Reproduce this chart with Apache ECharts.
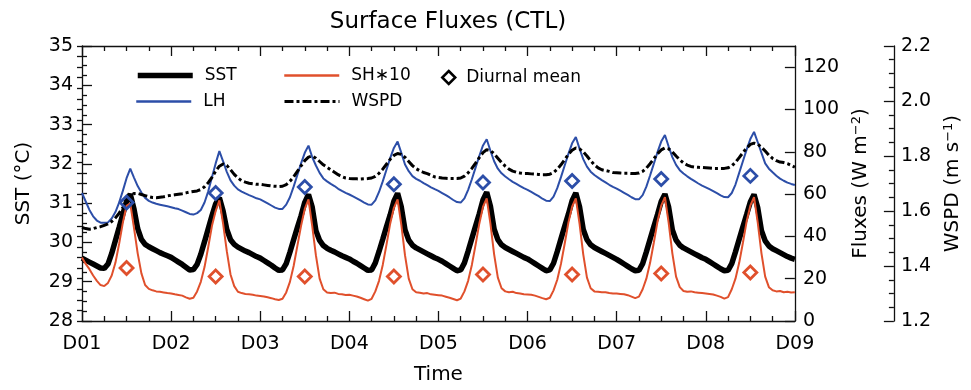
<!DOCTYPE html>
<html>
<head>
<meta charset="utf-8">
<script src="https://cdn.jsdelivr.net/npm/echarts@6/dist/echarts.min.js"></script>
<style>
  html, body { margin: 0; padding: 0; background: #ffffff; }
  #chart { width: 971px; height: 390px; }
</style>
</head>
<body>
<div id="chart"></div>
<script>
// Hourly model output over eight days (D01 00h .. D09 00h)
const dayLabels = ['D01', 'D02', 'D03', 'D04', 'D05', 'D06', 'D07', 'D08', 'D09'];

// Sea surface temperature (°C)
const sst = [
  29.60, 29.55, 29.50, 29.45, 29.40, 29.35, 29.34, 29.45, 29.72, 30.05, 30.38, 30.72, 31.05, 31.23, 30.85, 30.35, 30.08, 29.95, 29.89, 29.84, 29.79, 29.74, 29.70, 29.66,
  29.62, 29.56, 29.50, 29.44, 29.37, 29.30, 29.31, 29.44, 29.70, 30.02, 30.35, 30.68, 30.98, 31.14, 30.80, 30.33, 30.07, 29.95, 29.88, 29.83, 29.78, 29.74, 29.69, 29.64,
  29.60, 29.54, 29.48, 29.42, 29.35, 29.29, 29.30, 29.46, 29.75, 30.07, 30.38, 30.68, 31.02, 31.22, 30.90, 30.30, 30.05, 29.92, 29.85, 29.80, 29.76, 29.71, 29.66, 29.62,
  29.58, 29.52, 29.47, 29.41, 29.35, 29.29, 29.30, 29.48, 29.77, 30.08, 30.40, 30.70, 31.05, 31.25, 30.90, 30.32, 30.06, 29.93, 29.86, 29.81, 29.76, 29.71, 29.66, 29.61,
  29.57, 29.52, 29.46, 29.40, 29.34, 29.28, 29.30, 29.48, 29.78, 30.10, 30.42, 30.73, 31.08, 31.28, 30.92, 30.34, 30.07, 29.94, 29.87, 29.82, 29.77, 29.72, 29.67, 29.62,
  29.58, 29.52, 29.46, 29.40, 29.34, 29.28, 29.30, 29.47, 29.77, 30.09, 30.41, 30.72, 31.06, 31.26, 30.91, 30.33, 30.07, 29.94, 29.87, 29.82, 29.77, 29.72, 29.67, 29.62,
  29.57, 29.51, 29.45, 29.39, 29.33, 29.28, 29.29, 29.46, 29.76, 30.08, 30.40, 30.71, 31.04, 31.23, 30.90, 30.32, 30.06, 29.93, 29.86, 29.81, 29.76, 29.71, 29.66, 29.61,
  29.57, 29.51, 29.45, 29.39, 29.33, 29.28, 29.29, 29.46, 29.76, 30.08, 30.40, 30.71, 31.03, 31.22, 30.88, 30.30, 30.04, 29.91, 29.84, 29.79, 29.74, 29.69, 29.64, 29.60,
  29.57
];

// Latent heat flux (W m-2)
const lh = [
  60.5, 56.5, 52.5, 49.5, 47.5, 46.5, 46.4, 46.6, 48.5, 51.5, 56.0, 61.5, 67.5, 72.0, 67.8, 63.8, 60.7, 58.2, 56.8, 56.0, 55.4, 55.0, 54.6, 54.2,
  53.8, 53.3, 52.9, 52.2, 51.4, 50.6, 50.3, 51.0, 52.5, 56.0, 61.3, 68.0, 74.5, 80.3, 75.5, 70.5, 66.5, 64.0, 62.2, 61.2, 60.3, 59.5, 58.8, 58.0,
  57.5, 56.6, 55.6, 54.6, 53.6, 53.0, 53.0, 55.0, 58.5, 63.5, 69.0, 74.5, 79.5, 82.9, 77.5, 73.5, 70.0, 67.4, 66.0, 64.8, 63.8, 62.5, 61.5, 60.6,
  59.8, 58.9, 58.0, 57.0, 56.0, 55.1, 55.0, 57.0, 61.0, 66.0, 71.5, 77.0, 81.8, 84.8, 79.5, 74.0, 70.8, 68.5, 67.2, 66.3, 65.2, 64.2, 63.2, 62.3,
  61.5, 60.5, 59.5, 58.4, 57.2, 56.2, 56.0, 58.0, 62.0, 67.0, 72.5, 78.0, 83.0, 85.9, 80.5, 75.5, 72.0, 69.8, 68.3, 67.0, 65.8, 64.8, 63.8, 62.8,
  62.0, 61.0, 60.0, 59.0, 57.8, 56.9, 56.7, 58.8, 62.8, 68.0, 73.5, 79.0, 84.0, 87.0, 81.5, 76.5, 73.0, 70.6, 69.0, 67.8, 66.6, 65.5, 64.4, 63.4,
  62.6, 61.6, 60.6, 59.6, 58.5, 57.6, 57.5, 59.5, 63.5, 68.8, 74.3, 79.8, 84.8, 87.9, 82.5, 77.5, 73.8, 71.3, 69.7, 68.4, 67.2, 66.1, 65.0, 64.0,
  63.2, 62.3, 61.4, 60.4, 59.4, 58.6, 58.5, 60.5, 64.5, 70.0, 75.5, 81.0, 86.0, 89.4, 84.5, 79.5, 74.5, 72.0, 70.3, 68.7, 67.3, 66.3, 65.4, 64.8,
  64.3
];

// Sensible heat flux x 10 (W m-2)
const sh10 = [
  30.0, 27.0, 24.5, 21.5, 19.0, 17.0, 16.5, 18.0, 21.5, 27.5, 36.5, 46.5, 54.5, 55.5, 44.0, 32.0, 22.5, 17.0, 15.2, 14.5, 14.0, 13.8, 13.5, 13.2,
  13.0, 12.6, 12.3, 12.0, 11.2, 10.5, 11.0, 14.0, 18.5, 25.5, 35.0, 45.0, 52.0, 57.0, 46.0, 33.0, 22.0, 16.5, 13.8, 13.2, 12.8, 12.6, 12.4, 12.0,
  11.8, 11.6, 11.2, 10.8, 10.3, 9.9, 10.5, 13.5, 18.5, 26.0, 35.5, 45.0, 53.0, 57.5, 45.0, 31.0, 20.0, 15.0, 13.5, 13.2, 13.4, 12.8, 12.6, 12.3,
  12.4, 12.0, 11.6, 11.0, 10.3, 9.6, 10.5, 14.0, 19.0, 26.5, 36.0, 46.0, 53.5, 57.5, 45.5, 31.0, 20.0, 15.0, 13.6, 13.4, 13.0, 13.2, 12.6, 12.4,
  12.2, 12.0, 11.5, 11.0, 10.4, 9.8, 10.6, 14.0, 19.0, 26.5, 36.0, 46.0, 54.0, 58.0, 46.0, 31.5, 20.5, 15.5, 14.0, 13.6, 13.8, 13.2, 13.0, 12.6,
  12.5, 12.4, 12.0, 11.4, 10.8, 10.3, 11.0, 14.5, 19.5, 27.0, 36.5, 46.5, 54.0, 58.0, 46.0, 31.5, 20.5, 15.5, 14.0, 13.8, 13.6, 13.6, 13.2, 13.0,
  13.0, 12.8, 12.6, 12.2, 11.5, 10.8, 11.5, 15.0, 20.0, 27.5, 37.0, 47.0, 54.5, 58.5, 46.5, 32.0, 21.0, 16.0, 14.2, 13.8, 14.0, 13.6, 13.4, 13.2,
  13.0, 12.8, 12.5, 12.0, 11.4, 10.6, 11.3, 15.0, 20.0, 27.5, 37.0, 47.0, 54.5, 58.5, 46.5, 32.0, 21.0, 16.0, 14.5, 14.0, 14.2, 13.6, 13.8, 13.5,
  13.6
];

// 10-m wind speed (m s-1)
const wspd = [
  1.540, 1.536, 1.534, 1.536, 1.540, 1.543, 1.548, 1.553, 1.562, 1.575, 1.592, 1.612, 1.632, 1.650, 1.664, 1.664, 1.660, 1.656, 1.652, 1.649, 1.648, 1.650, 1.652, 1.655,
  1.657, 1.659, 1.661, 1.663, 1.666, 1.669, 1.671, 1.673, 1.678, 1.688, 1.703, 1.722, 1.745, 1.763, 1.771, 1.766, 1.750, 1.733, 1.720, 1.710, 1.705, 1.701, 1.699, 1.697,
  1.697, 1.695, 1.693, 1.691, 1.690, 1.689, 1.690, 1.696, 1.708, 1.724, 1.744, 1.764, 1.783, 1.796, 1.800, 1.792, 1.780, 1.768, 1.759, 1.750, 1.741, 1.732, 1.725, 1.720,
  1.718, 1.717, 1.717, 1.716, 1.717, 1.718, 1.720, 1.726, 1.737, 1.752, 1.770, 1.788, 1.802, 1.809, 1.806, 1.795, 1.780, 1.765, 1.754, 1.746, 1.740, 1.736, 1.730, 1.724,
  1.722, 1.720, 1.719, 1.718, 1.718, 1.718, 1.720, 1.727, 1.739, 1.755, 1.774, 1.794, 1.812, 1.823, 1.820, 1.808, 1.792, 1.776, 1.763, 1.752, 1.745, 1.741, 1.738, 1.736,
  1.736, 1.735, 1.734, 1.733, 1.732, 1.732, 1.734, 1.740, 1.752, 1.768, 1.787, 1.806, 1.821, 1.829, 1.826, 1.815, 1.800, 1.783, 1.768, 1.757, 1.750, 1.747, 1.744, 1.740,
  1.739, 1.738, 1.737, 1.737, 1.736, 1.736, 1.738, 1.744, 1.756, 1.772, 1.790, 1.808, 1.822, 1.829, 1.826, 1.815, 1.800, 1.786, 1.775, 1.767, 1.762, 1.760, 1.759, 1.758,
  1.757, 1.756, 1.755, 1.755, 1.755, 1.755, 1.757, 1.764, 1.777, 1.794, 1.812, 1.829, 1.842, 1.847, 1.843, 1.832, 1.818, 1.803, 1.791, 1.783, 1.778, 1.776, 1.772, 1.766,
  1.759
];

// Diurnal means, plotted at mid-day
const lhDailyMean = [56.0, 60.5, 63.3, 64.6, 65.5, 66.2, 67.1, 68.6];
const sh10DailyMean = [25.1, 21.0, 21.0, 21.0, 22.0, 22.0, 22.5, 22.9];

const FONT = 'DejaVu Sans';
const BLUE = '#2c4ea8';
const RED = '#e0502c';

const hourly = arr => arr.map((v, i) => [i / 24, v]);
const midday = arr => arr.map((v, i) => [i + 0.5, v]);

const axisLineStyle = { color: '#111', width: 1.3 };
const labelStyle = { fontFamily: FONT, fontSize: 19, color: '#000' };
const nameStyle = {
  fontFamily: FONT, fontSize: 20, color: '#000',
  rich: { sup: { fontFamily: FONT, fontSize: 13, color: '#000', verticalAlign: 'top', lineHeight: 22 } }
};

function xAxisCfg(pos, showLabels) {
  return {
    type: 'value', position: pos, min: 0, max: 8, interval: 1,
    axisLine: { show: true, onZero: false, lineStyle: axisLineStyle },
    axisTick: { show: true, inside: true, length: 10, lineStyle: axisLineStyle },
    minorTick: { show: true, splitNumber: 4, length: 5, lineStyle: axisLineStyle },
    axisLabel: showLabels
      ? Object.assign({ margin: 14, formatter: v => dayLabels[Math.round(v)] }, labelStyle)
      : { show: false },
    splitLine: { show: false }
  };
}

// Line-only legend keys: the marker part of the key is made invisible
const hiddenMarker = { color: 'rgba(0,0,0,0)', borderColor: 'rgba(0,0,0,0)', borderWidth: 0, opacity: 0 };

const legendBase = {
  orient: 'horizontal', padding: 0, selectedMode: false,
  itemHeight: 18, itemWidth: 55,
  itemStyle: hiddenMarker,
  textStyle: { fontFamily: FONT, fontSize: 17, color: '#000', padding: [0, 0, 0, 7] }
};

const option = {
  animation: false,
  backgroundColor: '#ffffff',
  title: {
    text: 'Surface Fluxes (CTL)',
    left: 443, top: 6, textAlign: 'center',
    textStyle: { fontFamily: FONT, fontSize: 23, fontWeight: 'normal', color: '#000' }
  },
  grid: { left: 82, right: 167, top: 46, bottom: 59, containLabel: false },
  legend: [
    Object.assign({}, legendBase, { data: ['SST'], left: 135, top: 67, lineStyle: { width: 5.5 } }),
    Object.assign({}, legendBase, { data: ['LH'], left: 135, top: 93, lineStyle: { width: 2.5 } }),
    Object.assign({}, legendBase, { data: ['SH∗10'], left: 283, top: 67, lineStyle: { width: 2.5 } }),
    Object.assign({}, legendBase, { data: ['WSPD'], left: 283, top: 93, lineStyle: { width: 3 } }),
    Object.assign({}, legendBase, {
      data: [{ name: 'Diurnal mean', icon: 'diamond' }],
      left: 441, top: 69, itemWidth: 13, itemHeight: 13,
      itemStyle: { color: 'rgba(255,255,255,0)', borderColor: '#000', borderWidth: 2.5, opacity: 1 },
      textStyle: { fontFamily: FONT, fontSize: 17, color: '#000', padding: [0, 0, 0, 6] }
    })
  ],
  xAxis: [
    Object.assign(xAxisCfg('bottom', true), {
      name: 'Time', nameLocation: 'middle', nameGap: 44, nameTextStyle: nameStyle
    }),
    xAxisCfg('top', false)
  ],
  yAxis: [
    {
      type: 'value', position: 'left', min: 28, max: 35, interval: 1,
      name: 'SST (°C)', nameLocation: 'middle', nameRotate: 90, nameGap: 48, nameTextStyle: nameStyle,
      axisLine: { show: true, onZero: false, lineStyle: axisLineStyle },
      axisTick: { show: true, inside: true, length: 10, lineStyle: axisLineStyle },
      minorTick: { show: true, splitNumber: 4, length: 5, lineStyle: axisLineStyle },
      axisLabel: Object.assign({ margin: 9 }, labelStyle),
      splitLine: { show: false }
    },
    {
      type: 'value', position: 'right', offset: 0, min: 0, max: 130, interval: 20,
      name: 'Fluxes (W m{sup|−2})', nameLocation: 'middle', nameRotate: 90, nameGap: 52, nameTextStyle: nameStyle,
      axisLine: { show: true, onZero: false, lineStyle: axisLineStyle },
      axisTick: { show: true, inside: true, length: 10, lineStyle: axisLineStyle },
      axisLabel: Object.assign({ margin: 8, showMaxLabel: false }, labelStyle),
      splitLine: { show: false }
    },
    {
      type: 'value', position: 'right', offset: 0, min: 0, max: 130, interval: 5,
      axisLine: { show: false },
      axisTick: { show: true, inside: true, length: 5, lineStyle: axisLineStyle },
      axisLabel: { show: false },
      splitLine: { show: false }
    },
    {
      type: 'value', position: 'right', offset: 99, min: 1.2, max: 2.2, interval: 0.2,
      name: 'WSPD (m s{sup|−1})', nameLocation: 'middle', nameRotate: 90, nameGap: 46, nameTextStyle: nameStyle,
      axisLine: { show: true, onZero: false, lineStyle: axisLineStyle },
      axisTick: { show: true, inside: true, length: 10, lineStyle: axisLineStyle },
      minorTick: { show: true, splitNumber: 4, length: 5, lineStyle: axisLineStyle },
      axisLabel: Object.assign({ margin: 7, formatter: v => v.toFixed(1) }, labelStyle),
      splitLine: { show: false }
    }
  ],
  series: [
    {
      name: 'SST', type: 'line', xAxisIndex: 0, yAxisIndex: 0, data: hourly(sst),
      symbol: 'none', color: '#000', lineStyle: { color: '#000', width: 5.5 }, z: 2
    },
    {
      name: 'LH', type: 'line', xAxisIndex: 0, yAxisIndex: 1, data: hourly(lh),
      symbol: 'none', color: BLUE, lineStyle: { color: BLUE, width: 2 }, z: 3
    },
    {
      name: 'SH∗10', type: 'line', xAxisIndex: 0, yAxisIndex: 1, data: hourly(sh10),
      symbol: 'none', color: RED, lineStyle: { color: RED, width: 2 }, z: 3
    },
    {
      name: 'WSPD', type: 'line', xAxisIndex: 0, yAxisIndex: 3, data: hourly(wspd),
      symbol: 'none', color: '#000', lineStyle: { color: '#000', width: 3, type: [9, 3, 3, 3] }, z: 4
    },
    {
      name: 'LH mean', type: 'scatter', xAxisIndex: 0, yAxisIndex: 1, data: midday(lhDailyMean),
      symbol: 'diamond', symbolSize: 13,
      itemStyle: { color: 'rgba(255,255,255,0)', borderColor: BLUE, borderWidth: 2.8, opacity: 1 }, z: 5
    },
    {
      name: 'SH∗10 mean', type: 'scatter', xAxisIndex: 0, yAxisIndex: 1, data: midday(sh10DailyMean),
      symbol: 'diamond', symbolSize: 13,
      itemStyle: { color: 'rgba(255,255,255,0)', borderColor: RED, borderWidth: 2.8, opacity: 1 }, z: 5
    },
    {
      name: 'Diurnal mean', type: 'scatter', xAxisIndex: 0, yAxisIndex: 1, data: [],
      symbol: 'diamond',
      itemStyle: { color: 'rgba(255,255,255,0)', borderColor: '#000', borderWidth: 2.5, opacity: 1 }
    }
  ]
};

const chart = echarts.init(document.getElementById('chart'), null, { renderer: 'canvas' });
chart.setOption(option);
</script>
</body>
</html>
